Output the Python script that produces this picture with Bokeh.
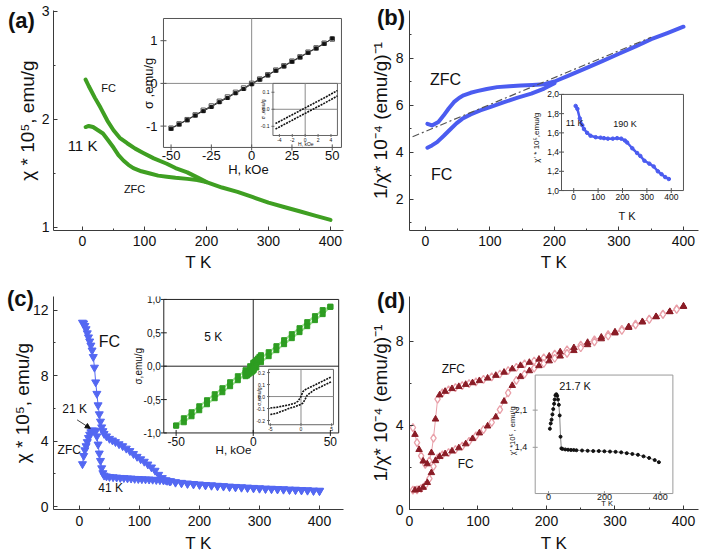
import math
from bokeh.plotting import figure
from bokeh.models import Range1d, SingleIntervalTicker, FixedTicker, Arrow, NormalHead, GridBox, Div
from bokeh.core.properties import value
from bokeh.embed import file_html
from bokeh.resources import INLINE

FONT = "Liberation Sans"
INK = "#111111"
AXC = "#3a3a3a"

# ---------------- data: panel (a) ----------------
a_T_fc = [5, 10, 20, 29, 40, 50, 60, 72, 85, 98, 115, 136, 150, 169, 190, 200, 225, 250, 275, 300, 325, 350, 375, 400]
a_fc = [2.37, 2.31, 2.2, 2.11, 1.99, 1.9, 1.83, 1.78, 1.73, 1.69, 1.64, 1.59, 1.55, 1.51, 1.45, 1.42, 1.37, 1.33, 1.28, 1.23, 1.19, 1.15, 1.11, 1.07]
a_T_zfc = [5, 10, 17, 25, 33, 41, 50, 58, 66, 74, 82, 95, 109, 122, 136, 150, 169, 185, 200]
a_zfc = [1.93, 1.94, 1.93, 1.9, 1.87, 1.81, 1.74, 1.67, 1.62, 1.58, 1.55, 1.52, 1.5, 1.48, 1.47, 1.46, 1.45, 1.44, 1.42]
ai_H = [-50, -45, -40, -35, -30, -25, -20, -15, -10, -5, 0, 5, 10, 15, 20, 25, 30, 35, 40, 45, 50]
ai_s1 = [-1.05, -0.95, -0.85, -0.74, -0.63, -0.53, -0.42, -0.32, -0.21, -0.11, 0.0, 0.1, 0.2, 0.31, 0.41, 0.52, 0.62, 0.73, 0.83, 0.94, 1.04]
ai_s2 = [-1.06, -0.96, -0.86, -0.75, -0.65, -0.55, -0.44, -0.34, -0.23, -0.13, -0.02, 0.09, 0.19, 0.3, 0.4, 0.51, 0.61, 0.72, 0.82, 0.93, 1.05]
ai2_H = [-4.6, -4, -3, -2, -1, 0, 1, 2, 3, 4, 5]
ai2_up = [-0.084, -0.072, -0.052, -0.032, -0.012, 0.008, 0.028, 0.048, 0.068, 0.089, 0.11]
ai2_dn = [-0.116, -0.104, -0.084, -0.064, -0.044, -0.024, -0.004, 0.016, 0.036, 0.057, 0.078]
a_yticks = [1, 2, 3]
ai_xt = [-50, -25, 0, 25, 50]
ai_xtl = ["-50", "-25", "0", "25", "50"]
ai_yt = [-1, 0, 1]
ai_ytl = ["-1", "0", "1"]
ai2_xt = [-4, -2, 0, 2, 4]
ai2_xtl = ["-4", "-2", "0", "2", "4"]
ai2_yt = [-0.1, 0.0, 0.1]
ai2_ytl = ["-0.1", "0.0", "0.1"]

# ---------------- data: panel (b) ----------------
b_T_zfc = [3, 10, 20, 28, 36, 44, 52, 59, 70, 80, 95, 111, 130, 148, 166, 184, 200, 220, 250, 275, 300, 325, 350, 375, 400]
b_zfc = [5.22, 5.15, 5.3, 5.57, 5.87, 6.14, 6.32, 6.43, 6.54, 6.61, 6.7, 6.78, 6.82, 6.85, 6.87, 6.9, 7.02, 7.25, 7.6, 7.9, 8.2, 8.5, 8.82, 9.08, 9.35]
b_T_fc = [3, 10, 18, 28, 39, 48, 57, 70, 85, 100, 122, 143, 164, 184, 200]
b_fc = [4.2, 4.3, 4.44, 4.7, 5.0, 5.24, 5.43, 5.62, 5.79, 5.93, 6.14, 6.33, 6.5, 6.72, 6.95]
b_fit_T = [-20, 350]
b_fit = [4.67, 8.9]
bi_T = [8, 15, 25, 35, 42, 55, 69, 90, 110, 124, 140, 160, 178, 195, 210, 219, 240, 260, 273, 290, 310, 328, 345, 360, 375, 390]
bi_v = [1.88, 1.85, 1.75, 1.68, 1.64, 1.6, 1.57, 1.555, 1.55, 1.545, 1.54, 1.54, 1.545, 1.54, 1.52, 1.5, 1.44, 1.39, 1.36, 1.31, 1.28, 1.25, 1.2, 1.17, 1.14, 1.12]
b_yticks = [2, 4, 6, 8]
bi_xt = [0, 100, 200, 300, 400]
bi_xtl = ["0", "100", "200", "300", "400"]
bi_yt = [1.0, 1.2, 1.4, 1.6, 1.8, 2.0]
bi_ytl = ["1,0", "1,2", "1,4", "1,6", "1,8", "2,0"]

# ---------------- data: panel (c) ----------------
c_T_fc = [5, 7, 9, 11, 13, 15, 17, 19, 21, 23, 25, 27, 29, 31, 33, 35, 37, 39, 41, 45, 50, 55, 60, 66, 72, 78, 84, 90, 96, 102, 108, 114, 120, 126, 132, 138, 144, 150, 160, 170, 180, 190, 200, 210, 220, 230, 240, 250, 260, 270, 280, 290, 300, 310, 320, 330, 340, 350, 360, 370, 380, 390, 400]
c_fc = [11.25, 11.2, 11.05, 10.85, 10.6, 10.35, 10.1, 9.85, 9.55, 9.15, 8.5, 7.6, 6.9, 6.2, 5.65, 5.2, 4.85, 4.62, 4.45, 4.3, 4.15, 4.05, 3.95, 3.82, 3.7, 3.55, 3.4, 3.22, 3.05, 2.9, 2.75, 2.58, 2.4, 2.2, 1.95, 1.75, 1.62, 1.55, 1.5, 1.46, 1.42, 1.39, 1.36, 1.33, 1.31, 1.28, 1.26, 1.23, 1.21, 1.19, 1.17, 1.15, 1.13, 1.11, 1.1, 1.08, 1.07, 1.05, 1.04, 1.02, 1.01, 0.99, 0.98]
c_T_zfc = [5, 7, 9, 11, 13, 15, 17, 19, 21, 23, 25, 27, 29, 31, 33, 35, 37, 39, 41, 45, 50, 56, 62, 68, 74, 80, 86, 92, 98, 104, 110, 116, 122, 128, 134, 140, 146, 152, 160, 170, 180, 190, 200, 210, 220, 230, 240, 250, 260, 270, 280, 290, 300, 310, 320, 330, 340, 350, 360, 370, 380, 390, 400]
c_zfc = [2.6, 3.1, 3.45, 3.7, 3.95, 4.2, 4.4, 4.55, 4.65, 4.65, 4.65, 4.6, 4.3, 3.8, 3.25, 2.8, 2.35, 2.05, 1.9, 1.85, 1.82, 1.8, 1.78, 1.76, 1.75, 1.73, 1.72, 1.7, 1.69, 1.68, 1.67, 1.66, 1.65, 1.63, 1.62, 1.6, 1.58, 1.56, 1.47, 1.43, 1.39, 1.36, 1.33, 1.3, 1.28, 1.25, 1.23, 1.2, 1.18, 1.16, 1.14, 1.12, 1.1, 1.08, 1.07, 1.05, 1.04, 1.02, 1.01, 0.99, 0.98, 0.96, 0.95]
ci_H = [-50, -45, -40, -35, -30, -25, -20, -15, -10, -5, -2, 0, 2, 5, 10, 15, 20, 25, 30, 35, 40, 45, 50]
ci_up = [-0.89, -0.78, -0.69, -0.6, -0.51, -0.42, -0.33, -0.24, -0.15, -0.06, 0.0, 0.05, 0.08, 0.12, 0.21, 0.3, 0.39, 0.48, 0.57, 0.66, 0.75, 0.84, 0.89]
ci_dn = [-0.89, -0.84, -0.75, -0.66, -0.57, -0.48, -0.39, -0.3, -0.21, -0.12, -0.08, -0.05, -0.02, 0.06, 0.15, 0.24, 0.33, 0.42, 0.51, 0.6, 0.69, 0.78, 0.89]
ci2_H = [-5, -4, -3, -2, -1, -0.5, 0, 0.3, 0.6, 1, 2, 3, 4, 5]
ci2_up = [-0.095, -0.09, -0.08, -0.07, -0.055, -0.04, 0.0, 0.04, 0.055, 0.065, 0.09, 0.115, 0.14, 0.165]
ci2_dn = [-0.15, -0.14, -0.12, -0.1, -0.085, -0.075, -0.065, -0.055, -0.03, 0.01, 0.05, 0.075, 0.1, 0.125]
c_yticks = [0, 4, 8, 12]
ci_xt = [-50, 0, 50]
ci_xtl = ["-50", "0", "50"]
ci_yt = [-1.0, -0.5, 0.0, 0.5, 1.0]
ci_ytl = ["-1,0", "-0,5", "0,0", "0,5", "1,0"]
ci2_xt = [-5, 0, 5]
ci2_xtl = ["-5", "0", "5"]
ci2_yt = [-0.2, -0.1, 0.0, 0.1, 0.2]
ci2_ytl = ["-0.2", "-0.1", "0.0", "0.1", "0.2"]

# ---------------- data: panel (d) ----------------
d_T = [5, 8, 11, 14, 17, 20, 23, 26, 29, 32, 35, 38, 41, 44, 48, 52, 57, 62, 67, 72, 77, 82, 87, 92, 97, 102, 108, 114, 120, 126, 132, 138, 144, 150, 156, 162, 168, 175, 182, 189, 196, 204, 212, 220, 230, 240, 250, 260, 270, 280, 290, 300, 310, 320, 330, 340, 350, 360, 370, 380, 390, 400]
d_zfc = [3.9, 3.57, 3.18, 2.85, 2.55, 2.3, 2.15, 2.17, 2.32, 2.7, 3.4, 4.3, 5.25, 5.45, 5.55, 5.62, 5.69, 5.75, 5.8, 5.85, 5.9, 5.95, 5.99, 6.03, 6.08, 6.13, 6.19, 6.25, 6.31, 6.38, 6.45, 6.53, 6.61, 6.69, 6.77, 6.85, 6.93, 7.0, 7.07, 7.15, 7.22, 7.3, 7.4, 7.5, 7.6, 7.7, 7.82, 7.95, 8.08, 8.2, 8.32, 8.45, 8.58, 8.7, 8.82, 8.94, 9.06, 9.18, 9.3, 9.42, 9.55, 9.68]
d_fc = [0.92, 0.92, 0.93, 0.95, 1.0, 1.05, 1.15, 1.28, 1.47, 1.75, 2.05, 2.32, 2.45, 2.52, 2.6, 2.65, 2.71, 2.78, 2.85, 2.93, 3.02, 3.12, 3.24, 3.37, 3.5, 3.64, 3.8, 3.97, 4.15, 4.4, 4.75, 5.15, 5.55, 5.9, 6.15, 6.32, 6.45, 6.6, 6.73, 6.84, 6.95, 7.07, 7.2, 7.3, 7.43, 7.56, 7.7, 7.84, 7.98, 8.12, 8.26, 8.4, 8.53, 8.66, 8.79, 8.92, 9.05, 9.17, 9.29, 9.41, 9.53, 9.66]
di_T = [5, 8, 11, 14, 17, 20, 22, 25, 28, 31, 34, 37, 40, 43, 46, 50, 60, 70, 80, 90, 100, 120, 140, 160, 180, 200, 220, 240, 260, 280, 300, 320, 340, 360, 380, 395]
di_v = [1.75, 1.85, 1.92, 2.02, 2.12, 2.22, 2.3, 2.38, 2.4, 2.37, 2.3, 2.2, 2.0, 1.6, 1.38, 1.37, 1.36, 1.355, 1.35, 1.35, 1.345, 1.34, 1.335, 1.33, 1.33, 1.325, 1.32, 1.315, 1.305, 1.29, 1.275, 1.26, 1.23, 1.2, 1.16, 1.12]
d_yticks = [0, 4, 8]
di_xt = [0, 200, 400]
di_xtl = ["0", "200", "400"]
di_yt = [1.4, 2.1]
di_ytl = ["1,4", "2,1"]

GREEN = "#3f9f22"
BLUE_B = "#4b5cf0"
BLUE_C = "#5468f2"
DKRED = "#8a1c26"
PINK = "#e9a0a9"


def main_fig(w, h, xr, yr, mb, yticks, yminor, ylab, yls, ylab_stand, xls, xlab_stand, ylab_fs):
    p = figure(width=w, height=h, x_range=Range1d(*xr), y_range=Range1d(*yr),
               output_backend="svg", toolbar_location=None,
               min_border_left=mb[0], min_border_right=mb[1],
               min_border_top=mb[2], min_border_bottom=mb[3])
    p.grid.visible = False
    p.outline_line_color = None
    p.xaxis.ticker = SingleIntervalTicker(interval=100, num_minor_ticks=2)
    p.yaxis.ticker = FixedTicker(ticks=yticks, minor_ticks=yminor)
    for ax in (p.xaxis[0], p.yaxis[0]):
        ax.axis_line_color = AXC
        ax.major_tick_line_color = AXC
        ax.minor_tick_line_color = AXC
        ax.major_tick_in = 4
        ax.major_tick_out = 0
        ax.minor_tick_in = 2
        ax.minor_tick_out = 0
        ax.major_label_text_font = FONT
        ax.major_label_text_font_size = "14px"
        ax.major_label_text_color = INK
        ax.axis_label_text_font = FONT
        ax.axis_label_text_font_style = "normal"
        ax.axis_label_text_color = INK
    p.xaxis.axis_label = "T K"
    p.xaxis.axis_label_text_font_size = "17px"
    p.xaxis.major_label_standoff = xls
    p.xaxis.axis_label_standoff = xlab_stand
    p.yaxis.axis_label = ylab
    p.yaxis.axis_label_text_font_size = ylab_fs
    p.yaxis.major_label_standoff = yls
    p.yaxis.axis_label_standoff = ylab_stand
    return p


def add_inset(p, name, box, dom_x, dom_y, parent=None):
    if parent is None:
        px, py = p.x_range, p.y_range
    else:
        px, py = p.extra_x_ranges[parent], p.extra_y_ranges[parent]
    fx0 = (box[0] - px.start) / (px.end - px.start)
    fx1 = (box[1] - px.start) / (px.end - px.start)
    fy0 = (box[2] - py.start) / (py.end - py.start)
    fy1 = (box[3] - py.start) / (py.end - py.start)
    sx = (dom_x[1] - dom_x[0]) / (fx1 - fx0)
    sy = (dom_y[1] - dom_y[0]) / (fy1 - fy0)
    x0 = dom_x[0] - fx0 * sx
    y0 = dom_y[0] - fy0 * sy
    p.extra_x_ranges = {**p.extra_x_ranges, name: Range1d(start=x0, end=x0 + sx)}
    p.extra_y_ranges = {**p.extra_y_ranges, name: Range1d(start=y0, end=y0 + sy)}
    return dict(x_range_name=name, y_range_name=name)


def inset_frame(p, kw, dom_x, dom_y, xt, xtl, yt, ytl, fs, box_color, cross=None, tick=6,
                ylab_gap=2, yfs=None, xlab_off=None):
    yfs = yfs or fs
    xlab_off = tick / 2 + 1 if xlab_off is None else xlab_off
    p.quad(left=[dom_x[0]], right=[dom_x[1]], bottom=[dom_y[0]], top=[dom_y[1]],
           fill_color="white", line_color=box_color, line_width=1, **kw)
    if cross:
        p.segment(x0=[dom_x[0], 0], y0=[0, dom_y[0]], x1=[dom_x[1], 0], y1=[0, dom_y[1]],
                  line_color=cross, line_width=1, **kw)
    p.scatter(x=xt, y=[dom_y[0]] * len(xt), marker="dash", angle=math.pi / 2, size=tick,
              line_color=box_color, **kw)
    p.scatter(x=[dom_x[0]] * len(yt), y=yt, marker="dash", size=tick, line_color=box_color, **kw)
    p.text(x=xt, y=[dom_y[0]] * len(xt), text=xtl, y_offset=xlab_off, text_align="center",
           text_baseline="top", text_font=value(FONT), text_font_size=fs, text_color=INK, **kw)
    p.text(x=[dom_x[0]] * len(yt), y=yt, text=ytl, x_offset=-(tick / 2 + ylab_gap), text_align="right",
           text_baseline="middle", text_font=value(FONT), text_font_size=yfs, text_color=INK, **kw)


def txt(p, x, y, s, fs, kw=None, angle=0.0, bold=False):
    kw = kw or {}
    p.text(x=[x], y=[y], text=[s], angle=angle, text_align="center", text_baseline="middle",
           text_font=value(FONT), text_font_size=fs, text_color=INK,
           text_font_style="bold" if bold else "normal", **kw)


def panel_tag(s, left, top):
    html = ('<div style="position:relative; left:%dpx; top:%dpx; font-family:\'%s\', sans-serif; '
            'font-size:22px; font-weight:bold; line-height:22px; color:%s; white-space:nowrap;">%s</div>'
            % (left, top, FONT, INK, s))
    return Div(text=html, width=40, height=28, align="start")


# ================= panel (a) =================
pa = main_fig(350, 280, (-46.8, 421), (0.972, 3.009), (53, 7, 10, 50), a_yticks, [1.5, 2.5],
              "χ * 10⁵, emu/g", 4, 1, 5, 4, "19px")
pa.line(a_T_fc, a_fc, line_width=4, line_color=GREEN, line_join="round", line_cap="round")
pa.line(a_T_zfc, a_zfc, line_width=4, line_color=GREEN, line_join="round", line_cap="round")
txt(pa, 42, 2.287, "FC", "11px")
txt(pa, 0, 1.76, "11 K", "15px")
txt(pa, 84, 1.36, "ZFC", "11px")

ai_dx, ai_dy = (-54.7, 55.7), (-1.5, 1.52)
kai = add_inset(pa, "ia", (130.6, 417.7, 1.741, 2.935), ai_dx, ai_dy)
inset_frame(pa, kai, ai_dx, ai_dy, ai_xt, ai_xtl, ai_yt, ai_ytl, "13px", "#555555", cross="#8a8a8a",
            ylab_gap=3)
pa.line(ai_H, ai_s1, line_color="#333333", line_width=1, **kai)
pa.line(ai_H, ai_s2, line_color="#333333", line_width=1, **kai)
pa.scatter(ai_H, ai_s1, marker="square", size=4.5, fill_color="white", line_color="#555555", **kai)
pa.scatter(ai_H, ai_s2, marker="square", size=3, fill_color="#111111", line_color="#111111", **kai)
txt(pa, -2, -2.02, "H, kOe", "13px", kai)
txt(pa, -64, 0, "σ ,emu/g", "13px", kai, angle=math.pi / 2)

ai2_dx, ai2_dy = (-5, 5), (-0.154, 0.152)
kai2 = add_inset(pa, "ia2", (13.2, 53.2, -1.22, 0.0), ai2_dx, ai2_dy, parent="ia")
inset_frame(pa, kai2, ai2_dx, ai2_dy, ai2_xt, ai2_xtl, ai2_yt, ai2_ytl, "5px", "#666666",
            cross="#8a8a8a", tick=3)
pa.line(ai2_H, ai2_up, line_color="#111111", line_width=1.6, line_dash="2 1", **kai2)
pa.line(ai2_H, ai2_dn, line_color="#111111", line_width=1.6, line_dash="2 1", **kai2)
txt(pa, 0.1, -0.205, "H, kOe", "5px", kai2)
txt(pa, -6.6, 0, "σ ,emu/g", "5px", kai2, angle=math.pi / 2)

# ================= panel (b) =================
pb = main_fig(352, 280, (-24.8, 423.3), (0.68, 10.04), (59, 4, 10, 50), b_yticks, [1, 3, 5, 7, 9],
              "1/χ* 10⁻⁴ (emu/g)⁻¹", 6, 2, 5, 4, "19px")
pb.line(b_T_zfc, b_zfc, line_width=4, line_color=BLUE_B, line_join="round", line_cap="round")
pb.line(b_T_fc, b_fc, line_width=4, line_color=BLUE_B, line_join="round", line_cap="round")
pb.line(b_fit_T, b_fit, line_width=1.2, line_color="#555555", line_dash="7 3 2 3")
txt(pb, 31, 7.1, "ZFC", "16px")
txt(pb, 25, 3.06, "FC", "16px")

bi_dx, bi_dy = (-50, 450), (1.0, 2.0)
kbi = add_inset(pb, "ib", (210.9, 400, 2.38, 6.47), bi_dx, bi_dy)
inset_frame(pb, kbi, bi_dx, bi_dy, bi_xt, bi_xtl, bi_yt, bi_ytl, "8.5px", "#555555", tick=5,
            ylab_gap=0)
pb.line(bi_T, bi_v, line_color=BLUE_B, line_width=2.5, **kbi)
pb.scatter(bi_T, bi_v, marker="circle", size=3.5, fill_color=BLUE_B, line_color=BLUE_B, **kbi)
txt(pb, 219, 0.74, "T K", "11px", kbi)
txt(pb, -152, 1.55, "χ' * 10⁵,emu/g", "8px", kbi, angle=math.pi / 2)
txt(pb, 4, 1.7, "11 K", "9px", kbi)
txt(pb, 210, 1.69, "190 K", "9px", kbi)

# ================= panel (c) =================
pc = main_fig(350, 275, (-43.3, 440), (-0.18, 12.84), (53, 7, 16, 42), c_yticks, [2, 6, 10],
              "χ * 10⁵, emu/g", 5, -3, 6, 5, "19px")
pc.line(c_T_fc, c_fc, line_width=1, line_color=BLUE_C)
pc.line(c_T_zfc, c_zfc, line_width=1, line_color=BLUE_C)
pc.scatter(c_T_fc, c_fc, marker="inverted_triangle", size=8, fill_color=BLUE_C, line_color=BLUE_C)
pc.scatter(c_T_zfc, c_zfc, marker="inverted_triangle", size=8, fill_color=BLUE_C, line_color=BLUE_C)
txt(pc, 50, 10.08, "FC", "16px")
txt(pc, -8, 5.94, "21 K", "12px")
txt(pc, -17, 3.48, "ZFC", "12px")
txt(pc, 52, 1.14, "41 K", "12px")
pc.add_layout(Arrow(end=NormalHead(size=5, fill_color=INK, line_color=INK),
                    x_start=-4, y_start=5.3, x_end=18, y_end=4.78,
                    line_width=0.8, line_color=INK))

ci_dx, ci_dy = (-58, 55.4), (-1.0, 1.0)
kci = add_inset(pc, "ic", (140.5, 432, 4.5, 12.66), ci_dx, ci_dy)
inset_frame(pc, kci, ci_dx, ci_dy, ci_xt, ci_xtl, ci_yt, ci_ytl, "12px", "#222222", cross="#222222",
            ylab_gap=0, yfs="10px")
pc.line(ci_H, ci_up, line_color="#9be38f", line_width=2, **kci)
pc.line(ci_H, ci_dn, line_color="#9be38f", line_width=2, **kci)
pc.scatter(ci_H, ci_up, marker="square", size=5, fill_color="#2e9d22", line_color="#2e9d22", **kci)
pc.scatter(ci_H, ci_dn, marker="square", size=5, fill_color="#2e9d22", line_color="#2e9d22", **kci)
pc.scatter(ci2_H, ci2_up, marker="square", size=5, fill_color="#2e9d22", line_color="#2e9d22", **kci)
pc.scatter(ci2_H, ci2_dn, marker="square", size=5, fill_color="#2e9d22", line_color="#2e9d22", **kci)
txt(pc, -12.8, -1.25, "H, kOe", "11.5px", kci)
txt(pc, -74.5, 0, "σ,emu/g", "10px", kci, angle=math.pi / 2)
txt(pc, -26, 0.44, "5 K", "12px", kci)

ci2_dx, ci2_dy = (-5.3, 5.3), (-0.235, 0.227)
kci2 = add_inset(pc, "ic2", (9.9, 52.0, -0.877, -0.047), ci2_dx, ci2_dy, parent="ic")
inset_frame(pc, kci2, ci2_dx, ci2_dy, ci2_xt, ci2_xtl, ci2_yt, ci2_ytl, "5px", "#666666",
            cross="#8a8a8a", tick=3)
pc.line(ci2_H, ci2_up, line_color="#111111", line_width=1.6, line_dash="2 1", **kci2)
pc.line(ci2_H, ci2_dn, line_color="#111111", line_width=1.6, line_dash="2 1", **kci2)
txt(pc, -6.9, 0, "σ,emu/g", "5px", kci2, angle=math.pi / 2)

# ================= panel (d) =================
pd_ = main_fig(352, 275, (0, 421.9), (0, 10.14), (59, 4, 16, 42), d_yticks, [2, 6],
               "1/χ* 10⁻⁴ (emu/g)⁻¹", 6, 2, 6, 5, "19px")
pd_.line(d_T, d_zfc, line_width=1, line_color=PINK)
pd_.line(d_T, d_fc, line_width=1, line_color=PINK)
for ys in (d_zfc, d_fc):
    pd_.scatter(d_T[::2], ys[::2], marker="diamond", size=8, fill_color="white",
                line_color=PINK, line_width=1.3)
    pd_.scatter(d_T[1::2], ys[1::2], marker="triangle", size=6.5, fill_color=DKRED,
                line_color=DKRED)
txt(pd_, 64, 6.68, "ZFC", "12px")
txt(pd_, 82, 2.15, "FC", "12px")

di_dx, di_dy = (-47.6, 445), (0.53, 2.76)
kdi = add_inset(pd_, "id", (183.5, 384.5, 0.76, 6.4), di_dx, di_dy)
inset_frame(pd_, kdi, di_dx, di_dy, di_xt, di_xtl, di_yt, di_ytl, "9px", "#9a9a9a", tick=5,
            ylab_gap=5.5, xlab_off=0.5)
pd_.line(di_T, di_v, line_color="#888888", line_width=1, **kdi)
pd_.scatter(di_T, di_v, marker="circle", size=3, fill_color="#111111", line_color="#111111", **kdi)
txt(pd_, 210, 0.34, "T K", "7.5px", kdi)
txt(pd_, -130, 1.71, "χ' *10⁵ , emu/g", "7.5px", kdi, angle=math.pi / 2)
txt(pd_, 95, 2.55, "21.7 K", "11px", kdi)

tag_a = panel_tag("(a)", 3, 5)
tag_b = panel_tag("(b)", 22, 2)
tag_c = panel_tag("(c)", 2, 3)
tag_d = panel_tag("(d)", 22, 5)

layout = GridBox(children=[(pa, 0, 0), (pb, 0, 1), (pc, 1, 0), (pd_, 1, 1),
                           (tag_a, 0, 0), (tag_b, 0, 1), (tag_c, 1, 0), (tag_d, 1, 1)],
                 spacing=0)
open("out.html", "w").write(file_html(layout, INLINE))
